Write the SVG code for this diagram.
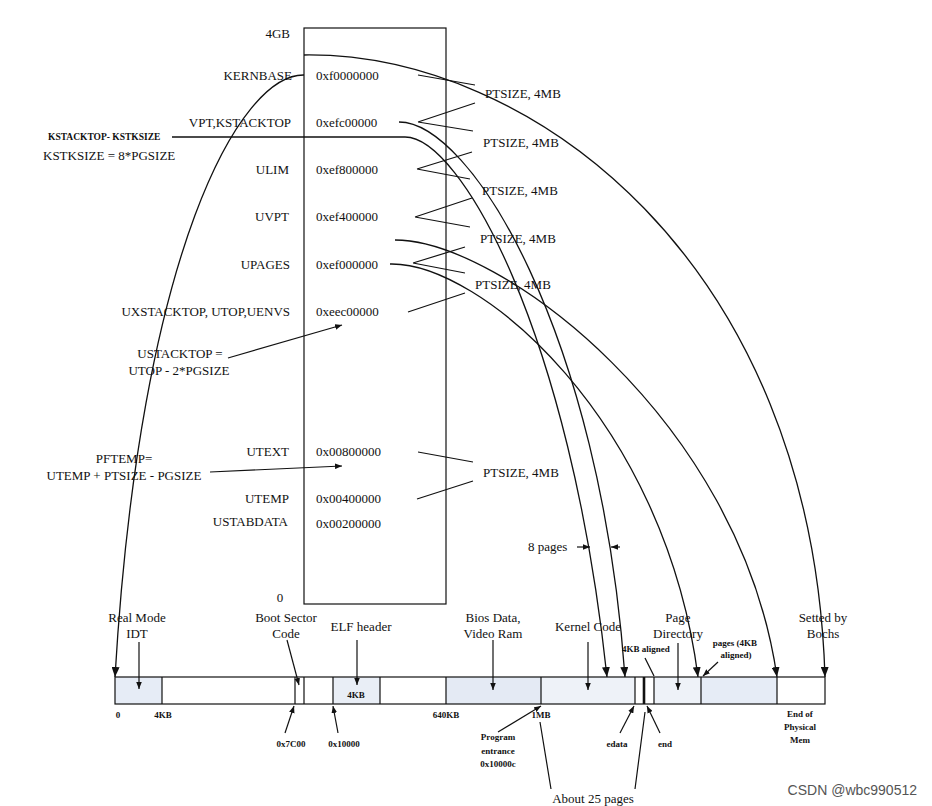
<svg xmlns="http://www.w3.org/2000/svg" width="932" height="806" viewBox="0 0 932 806">
<style>
.t{font-family:"Liberation Serif","Times New Roman",serif;font-size:13px;fill:#111}
.s{font-family:"Liberation Serif","Times New Roman",serif;font-size:9px;font-weight:bold;fill:#111}
.r{text-anchor:end}
.m{text-anchor:middle}
.ln{stroke:#111;fill:none;stroke-width:1.2}
.cv{stroke:#111;fill:none;stroke-width:1.3;marker-end:url(#ah)}
.ar{stroke:#111;fill:none;stroke-width:1.2;marker-end:url(#sa)}
.box{fill:#fff;stroke:#111;stroke-width:1.2}
.seg{stroke:#111;stroke-width:1.2}
</style>
<defs>
<marker id="ah" viewBox="0 0 10 8" refX="10" refY="4" markerWidth="10" markerHeight="8" markerUnits="userSpaceOnUse" orient="auto"><path d="M0,0 L10,4 L0,8 z" fill="#111"/></marker>
<marker id="sa" viewBox="0 0 10 8" refX="10" refY="4" markerWidth="7" markerHeight="6" markerUnits="userSpaceOnUse" orient="auto"><path d="M0,0 L10,4 L0,8 z" fill="#111"/></marker>
</defs>
<rect width="932" height="806" fill="#fff"/>

<g id="virtual-memory">
<rect class="box" x="304" y="28" width="142" height="576"/>
<text class="t r" x="290" y="38">4GB</text>
<text class="t m" x="280" y="602">0</text>
</g>

<g id="vlabels">
<text class="t r" x="292" y="80">KERNBASE</text>
<text class="t r" x="291" y="127">VPT,KSTACKTOP</text>
<text class="t r" x="289" y="174">ULIM</text>
<text class="t r" x="289" y="221">UVPT</text>
<text class="t r" x="290" y="269">UPAGES</text>
<text class="t r" x="290" y="316">UXSTACKTOP, UTOP,UENVS</text>
<text class="t r" x="289" y="456">UTEXT</text>
<text class="t r" x="289" y="503">UTEMP</text>
<text class="t r" x="288" y="526">USTABDATA</text>
</g>

<g id="addresses">
<text class="t" x="316" y="80">0xf0000000</text>
<text class="t" x="316" y="127">0xefc00000</text>
<text class="t" x="316" y="174">0xef800000</text>
<text class="t" x="316" y="221">0xef400000</text>
<text class="t" x="316" y="269">0xef000000</text>
<text class="t" x="316" y="316">0xeec00000</text>
<text class="t" x="316" y="456">0x00800000</text>
<text class="t" x="316" y="503">0x00400000</text>
<text class="t" x="316" y="528">0x00200000</text>
</g>

<g id="side-notes">
<text x="48" y="140" style="font-family:'Liberation Serif',serif;font-size:9.5px;font-weight:bold;fill:#111">KSTACKTOP- KSTKSIZE</text>
<text class="t" x="43" y="160">KSTKSIZE = 8*PGSIZE</text>
<text class="t m" x="180" y="358">USTACKTOP =</text>
<text class="t m" x="179" y="375">UTOP - 2*PGSIZE</text>
<text class="t m" x="124" y="463">PFTEMP=</text>
<text class="t m" x="124" y="480">UTEMP + PTSIZE - PGSIZE</text>
</g>

<g id="ptsize-labels">
<text class="t" x="485" y="98">PTSIZE, 4MB</text>
<text class="t" x="483" y="147">PTSIZE, 4MB</text>
<text class="t" x="482" y="195">PTSIZE, 4MB</text>
<text class="t" x="480" y="243">PTSIZE, 4MB</text>
<text class="t" x="475" y="289">PTSIZE, 4MB</text>
<text class="t" x="483" y="477">PTSIZE, 4MB</text>
<text class="t" x="528" y="551">8 pages</text>
</g>

<g id="physical-memory">
<rect x="115" y="677" width="47" height="27" fill="#e6ecf6"/>
<rect x="333" y="677" width="47" height="27" fill="#e9eef6"/>
<rect x="446" y="677" width="95" height="27" fill="#e4eaf4"/>
<rect x="541" y="677" width="94" height="27" fill="#eef2f8"/>
<rect x="654" y="677" width="47" height="27" fill="#eef2f8"/>
<rect x="701" y="677" width="76" height="27" fill="#e6ecf6"/>
<rect x="115" y="677" width="710" height="27" fill="none" stroke="#111" stroke-width="1.2"/>
<path class="seg" d="M162,677V704M295,677V704M304,677V704M333,677V704M380,677V704M446,677V704M541,677V704M635,677V704M654,677V704M701,677V704M777,677V704"/>
<path d="M644,677V704" stroke="#111" stroke-width="2.6"/>
<text class="s m" x="356" y="698">4KB</text>
</g>

<g id="plabels">
<text class="t m" x="137" y="622">Real Mode</text>
<text class="t m" x="137" y="638">IDT</text>
<text class="t m" x="286" y="622">Boot Sector</text>
<text class="t m" x="286" y="638">Code</text>
<text class="t m" x="361" y="631">ELF header</text>
<text class="t m" x="493" y="622">Bios Data,</text>
<text class="t m" x="493" y="638">Video Ram</text>
<text class="t m" x="588" y="631">Kernel Code</text>
<text class="t m" x="678" y="622">Page</text>
<text class="t m" x="678" y="638">Directory</text>
<text class="t m" x="823" y="622">Setted by</text>
<text class="t m" x="823" y="638">Bochs</text>
<text class="s" x="622" y="652">4KB aligned</text>
<text class="s m" x="735" y="646">pages (4KB</text>
<text class="s m" x="736" y="658">aligned)</text>
<text class="s m" x="118" y="718">0</text>
<text class="s m" x="163" y="718">4KB</text>
<text class="s m" x="291" y="747">0x7C00</text>
<text class="s m" x="344" y="747">0x10000</text>
<text class="s m" x="446" y="718">640KB</text>
<text class="s m" x="541" y="718">1MB</text>
<text class="s m" x="498" y="740">Program</text>
<text class="s m" x="498" y="754">entrance</text>
<text class="s m" x="498" y="767">0x10000c</text>
<text class="s m" x="617" y="747">edata</text>
<text class="s m" x="665" y="747">end</text>
<text class="s m" x="800" y="717">End of</text>
<text class="s m" x="800" y="730">Physical</text>
<text class="s m" x="800" y="743">Mem</text>
<text class="t m" x="593" y="803">About 25 pages</text>
</g>

<g id="connectors">
<path class="cv" d="M304,55 C530,52 812,260 825,677"/>
<path class="cv" d="M304,75 C240,74 140,250 115,677"/>
<path class="cv" d="M399,122 C470,122 600,330 625,677"/>
<path class="cv" d="M172,137 L405,137 C460,137 570,330 607,677"/>
<path class="cv" d="M395,240 C500,240 740,420 777,677"/>
<path class="cv" d="M390,264 C480,262 665,420 698,677"/>
<path class="ln" d="M418,75 L475,85 M418,122 L475,103 M418,122 L473,131 M417,169 L472,152 M417,169 L470,179 M415,217 L472,198 M415,217 L470,227 M413,263 L465,247 M413,263 L465,273 M408,312 L465,293 M418,452 L473,462 M417,499 L473,481"/>
<path class="ar" d="M228,358 L342,325"/>
<path class="ar" d="M210,472 L342,466"/>
<path class="ar" d="M577,547 L590,547"/>
<path class="ar" d="M620,547 L611,547"/>
<path class="ar" d="M139,642 L139,689"/>
<path class="ar" d="M287,640 L299,685"/>
<path class="ar" d="M357,640 L357,685"/>
<path class="ar" d="M493,640 L493,690"/>
<path class="ar" d="M588,642 L588,690"/>
<path class="ar" d="M678,643 L678,690"/>
<path class="ln" d="M645,658 L654,676"/>
<path class="ar" d="M718,662 L703,676"/>
<path class="ar" d="M285,733 L294,706"/>
<path class="ar" d="M338,733 L333,706"/>
<path class="ar" d="M498,732 L541,706"/>
<path class="ar" d="M620,733 L634,706"/>
<path class="ar" d="M660,733 L647,706"/>
<path class="ln" d="M540,722 L551,789 M645,712 L635,789"/>
</g>

<text x="917" y="795" text-anchor="end" style="font-family:'Liberation Sans',Arial,sans-serif;font-size:14px;fill:#555">CSDN @wbc990512</text>
</svg>
